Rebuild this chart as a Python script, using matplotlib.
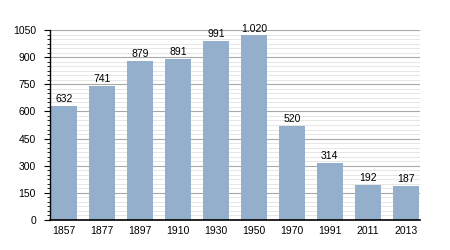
import numpy as np
import matplotlib.pyplot as plt
from matplotlib.ticker import MultipleLocator

years = ['1857', '1877', '1897', '1910', '1930', '1950', '1970', '1991', '2011', '2013']
population = [632, 741, 879, 891, 991, 1020, 520, 314, 192, 187]
value_labels = ['632', '741', '879', '891', '991', '1.020', '520', '314', '192', '187']

plt.rcParams['font.family'] = ['Liberation Sans', 'DejaVu Sans']

fig = plt.figure(figsize=(4.5, 2.5), dpi=100)
ax = fig.add_axes([0.111, 0.12, 0.822, 0.76])

x = np.arange(len(years))
ax.bar(x, population, width=0.7, color='#94afcb', zorder=3)

for xi, v, lab in zip(x, population, value_labels):
    ax.text(xi, v + 10, lab, ha='center', va='bottom', fontsize=7.5, zorder=4)

ax.set_xlim(-0.37, 9.37)
ax.set_ylim(0, 1050)
ax.set_xticks(x)
ax.set_xticklabels(years)
ax.yaxis.set_major_locator(MultipleLocator(150))
ax.yaxis.set_minor_locator(MultipleLocator(25))

ax.grid(axis='y', which='major', color='#a8a8a8', linewidth=0.8, zorder=0)
ax.grid(axis='y', which='minor', color='#e2e2e2', linewidth=0.6, zorder=0)

ax.tick_params(axis='y', which='major', length=4, width=0.8, labelsize=7.5, pad=6)
ax.tick_params(axis='y', which='minor', length=2, width=0.6)
ax.tick_params(axis='x', length=0, labelsize=7.5, pad=4)

for side in ['top', 'right']:
    ax.spines[side].set_visible(False)
ax.spines['left'].set_linewidth(1.0)
ax.spines['bottom'].set_linewidth(1.2)
ax.spines['left'].set_zorder(5)
ax.spines['bottom'].set_zorder(5)

fig.savefig('out.png', dpi=100)
